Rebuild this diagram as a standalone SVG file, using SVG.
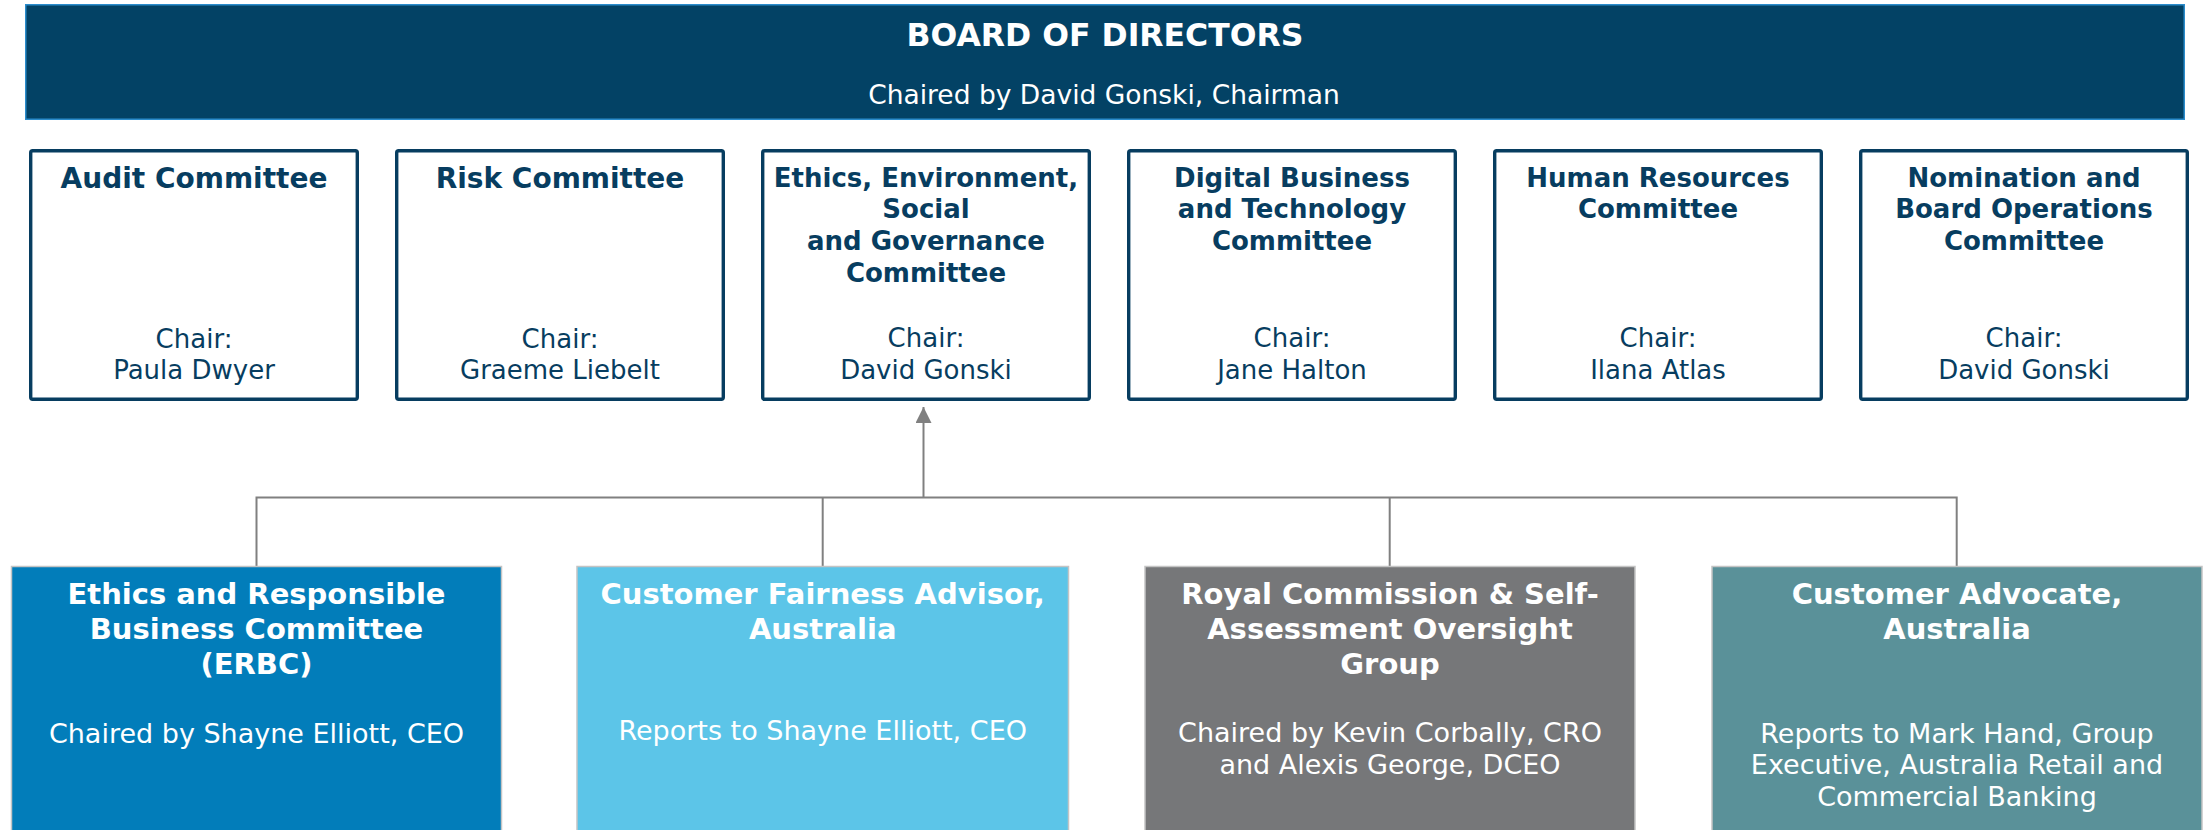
<svg xmlns="http://www.w3.org/2000/svg" width="2208" height="830" viewBox="0 0 2208 830">
<defs>
<style>
text{font-family:"DejaVu Sans","Verdana",sans-serif;text-anchor:middle}
.board{fill:#034265;stroke:#2b8ccc;stroke-width:1.5}
.bt{fill:#ffffff;font-weight:bold;font-size:31.5px}
.bs{fill:#ffffff;font-size:26.5px}
.cbox{fill:#ffffff;stroke:#073d60;stroke-width:3.4}
.ct{fill:#073d60;font-weight:bold;font-size:26px}
.ct28{fill:#073d60;font-weight:bold;font-size:28px}
.cr{fill:#073d60;font-size:26px}
.lbox{stroke:#c4c4c4;stroke-width:1.5}
.lt{fill:#ffffff;font-weight:bold;font-size:29px}
.lr{fill:#ffffff;font-size:27px}
.conn{fill:none;stroke:#808080;stroke-width:2}
</style>
<marker id="arr" viewBox="0 0 16 16" refX="16" refY="8" markerWidth="16" markerHeight="16" markerUnits="userSpaceOnUse" orient="auto">
<path d="M0,0 L16,8 L0,16 Z" fill="#808080"/>
</marker>
</defs>

<g id="board">
<rect class="board" x="25.75" y="4.75" width="2158.5" height="114.5"/>
<text class="bt" x="1105" y="45.5">BOARD OF DIRECTORS</text>
<text class="bs" x="1104" y="104">Chaired by David Gonski, Chairman</text>
</g>

<g id="audit">
<rect class="cbox" x="30.7" y="150.7" width="326.6" height="248.6" rx="2"/>
<text class="ct28" x="194" y="188">Audit Committee</text>
<text class="cr" x="194" y="347.5">Chair:</text>
<text class="cr" x="194" y="379.2">Paula Dwyer</text>
</g>

<g id="risk">
<rect class="cbox" x="396.7" y="150.7" width="326.6" height="248.6" rx="2"/>
<text class="ct28" x="560" y="188">Risk Committee</text>
<text class="cr" x="560" y="347.5">Chair:</text>
<text class="cr" x="560" y="379.2">Graeme Liebelt</text>
</g>

<g id="ethics-esg">
<rect class="cbox" x="762.7" y="150.7" width="326.6" height="248.6" rx="2"/>
<text class="ct" x="926" y="186.7">Ethics, Environment,</text>
<text class="ct" x="926" y="218.4">Social</text>
<text class="ct" x="926" y="250.1">and Governance</text>
<text class="ct" x="926" y="281.8">Committee</text>
<text class="cr" x="926" y="347">Chair:</text>
<text class="cr" x="926" y="378.7">David Gonski</text>
</g>

<g id="digital">
<rect class="cbox" x="1128.7" y="150.7" width="326.6" height="248.6" rx="2"/>
<text class="ct" x="1292" y="186.7">Digital Business</text>
<text class="ct" x="1292" y="218.4">and Technology</text>
<text class="ct" x="1292" y="250.1">Committee</text>
<text class="cr" x="1292" y="347">Chair:</text>
<text class="cr" x="1292" y="378.7">Jane Halton</text>
</g>

<g id="hr">
<rect class="cbox" x="1494.7" y="150.7" width="326.6" height="248.6" rx="2"/>
<text class="ct" x="1658" y="186.7">Human Resources</text>
<text class="ct" x="1658" y="218.4">Committee</text>
<text class="cr" x="1658" y="347">Chair:</text>
<text class="cr" x="1658" y="378.7">Ilana Atlas</text>
</g>

<g id="nomination">
<rect class="cbox" x="1860.7" y="150.7" width="326.6" height="248.6" rx="2"/>
<text class="ct" x="2024" y="186.7">Nomination and</text>
<text class="ct" x="2024" y="218.4">Board Operations</text>
<text class="ct" x="2024" y="250.1">Committee</text>
<text class="cr" x="2024" y="347">Chair:</text>
<text class="cr" x="2024" y="378.7">David Gonski</text>
</g>

<g id="connectors">
<path class="conn" d="M256.5,566 V497.5 H1956.7 V566"/>
<path class="conn" d="M822.7,497.5 V566"/>
<path class="conn" d="M1389.7,497.5 V566"/>
<path class="conn" d="M923.5,497.5 V407" marker-end="url(#arr)"/>
</g>

<g id="erbc">
<rect class="lbox" x="11.5" y="566.5" width="490" height="280" fill="#027dba"/>
<text class="lt" x="256.5" y="604.3">Ethics and Responsible</text>
<text class="lt" x="256.5" y="639.3">Business Committee</text>
<text class="lt" x="256.5" y="674.3">(ERBC)</text>
<text class="lr" x="256.5" y="742.7">Chaired by Shayne Elliott, CEO</text>
</g>

<g id="customer-fairness">
<rect class="lbox" x="577" y="566.5" width="491.5" height="280" fill="#5cc5e8"/>
<text class="lt" x="822.7" y="603.8">Customer Fairness Advisor,</text>
<text class="lt" x="822.7" y="639.3">Australia</text>
<text class="lr" x="822.7" y="740">Reports to Shayne Elliott, CEO</text>
</g>

<g id="royal-commission">
<rect class="lbox" x="1145" y="566.5" width="490" height="280" fill="#767779"/>
<text class="lt" x="1390" y="603.8">Royal Commission &amp; Self-</text>
<text class="lt" x="1390" y="638.8">Assessment Oversight</text>
<text class="lt" x="1390" y="673.8">Group</text>
<text class="lr" x="1390" y="742">Chaired by Kevin Corbally, CRO</text>
<text class="lr" x="1390" y="773.6">and Alexis George, DCEO</text>
</g>

<g id="customer-advocate">
<rect class="lbox" x="1712" y="566.5" width="490" height="280" fill="#5a9199"/>
<text class="lt" x="1957" y="604.3">Customer Advocate,</text>
<text class="lt" x="1957" y="639.3">Australia</text>
<text class="lr" x="1957" y="742.7">Reports to Mark Hand, Group</text>
<text class="lr" x="1957" y="774.3">Executive, Australia Retail and</text>
<text class="lr" x="1957" y="806">Commercial Banking</text>
</g>
</svg>
